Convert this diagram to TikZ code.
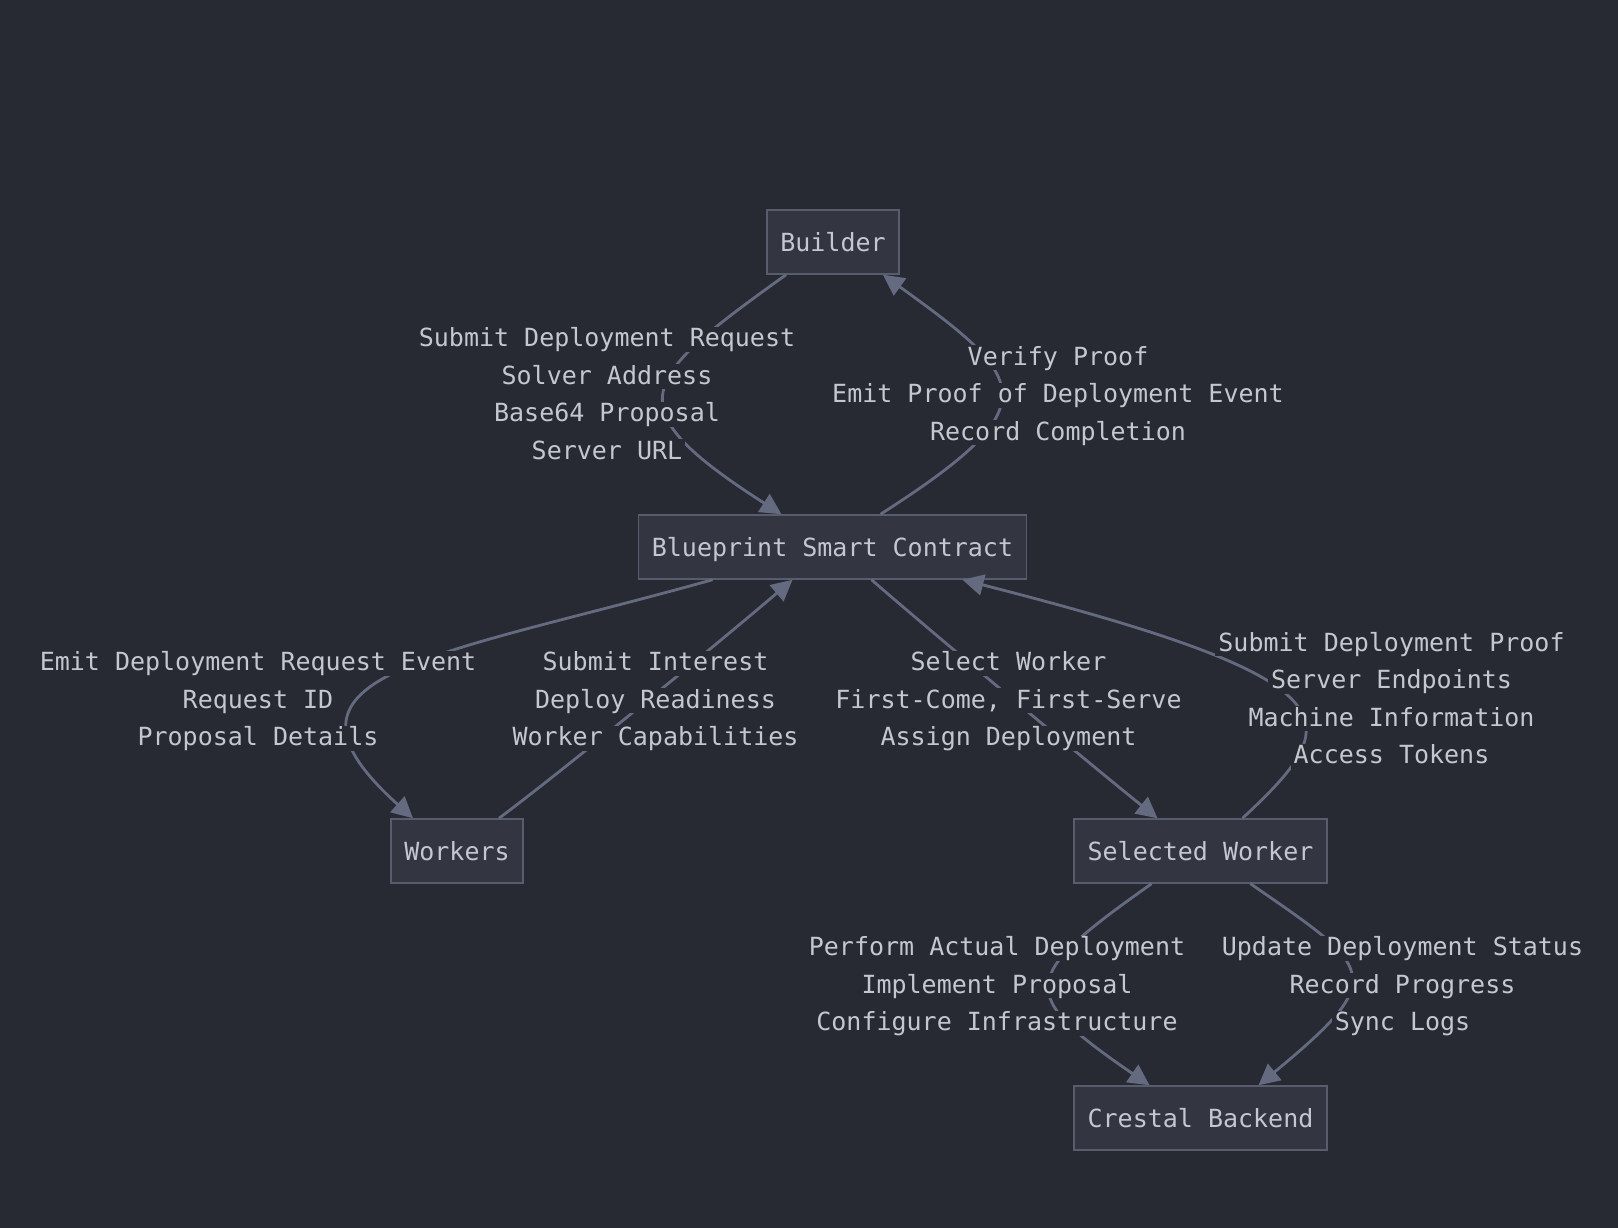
\documentclass[tikz,border=0pt]{standalone}
\usepackage{fontspec}
\newfontfamily\flowfont{DejaVu Sans Mono}
\usetikzlibrary{arrows.meta}

\definecolor{bgcol}{RGB}{40,42,51}
\definecolor{boxfill}{RGB}{51,54,65}
\definecolor{boxline}{RGB}{88,93,110}
\definecolor{linkcol}{RGB}{100,107,128}
\definecolor{textcol}{RGB}{195,199,208}

\begin{document}
\begin{tikzpicture}[x=1pt, y=-1pt,
  actor/.style={draw=boxline, fill=boxfill, line width=1.5pt, text=textcol,
    font=\flowfont\fontsize{25pt}{30pt}\selectfont, minimum height=64pt,
    inner xsep=13.5pt, text height=18.5pt, text depth=0pt},
  link/.style={draw=linkcol, line width=2.8pt, -{Triangle[length=21pt,width=21pt]}},
  lbl/.style={fill=bgcol, text=textcol, font=\flowfont\fontsize{25pt}{30pt}\selectfont,
    inner xsep=3pt, inner ysep=0pt, text height=20pt, text depth=5pt, anchor=base}]
  \newcommand{\EdgeLabel}[4]{%
    \foreach \txt [count=\k] in {#4}
      \node[lbl] (#1-\k) at (#2, {#3+37.5*(\k-1)}) {\txt};%
  }

  % Page
  \fill[bgcol] (0,0) rectangle (1618,1228);
  \useasboundingbox (0,0) rectangle (1618,1228);

  % Actors
  \node[actor] (builder) at (833,242) {Builder};
  \node[actor] (contract) at (832.5,547) {Blueprint Smart Contract};
  \node[actor] (workers) at (457,851) {Workers};
  \node[actor] (selected) at (1200.5,851) {Selected Worker};
  \node[actor] (backend) at (1200.5,1118) {Crestal Backend};

  % Links
  \draw[link] ([xshift=-47pt]builder.south) .. controls +(-146,105) and +(-170,-109) .. ([xshift=-51pt]contract.north);
  \draw[link] ([xshift=48pt]contract.north) .. controls +(170,-109) and +(146,105) .. ([xshift=50pt]builder.south);
  \draw[link] ([xshift=-120pt]contract.south) .. controls +(-283,79) and +(-161,-145) .. ([xshift=-44pt]workers.north);
  \draw[link] ([xshift=42pt]workers.north) .. controls +(71,-53) and +(-68,58) .. ([xshift=-40pt]contract.south);
  \draw[link] ([xshift=39pt]contract.south) .. controls +(62,54) and +(-66,-53) .. ([xshift=-43pt]selected.north);
  \draw[link] ([xshift=42pt]selected.north) .. controls +(104,-97) and +(400,102) .. ([xshift=130pt]contract.south);
  \draw[link] ([xshift=-49pt]selected.south) .. controls +(-133,94) and +(-134,-92) .. ([xshift=-51pt]backend.north);
  \draw[link] ([xshift=50pt]selected.south) .. controls +(123,85) and +(132,-109) .. ([xshift=58pt]backend.north);

  % Link labels
  \EdgeLabel{request}{607}{346.5}{Submit Deployment Request,Solver Address,Base64 Proposal,Server URL}
  \EdgeLabel{verify}{1058}{365}{Verify Proof,Emit Proof of Deployment Event,Record Completion}
  \EdgeLabel{emit}{258}{670.5}{Emit Deployment Request Event,Request ID,Proposal Details}
  \EdgeLabel{interest}{655.5}{670.5}{Submit Interest,Deploy Readiness,Worker Capabilities}
  \EdgeLabel{select}{1008.5}{670.5}{Select Worker,{First-Come, First-Serve},Assign Deployment}
  \EdgeLabel{proof}{1391.5}{651}{Submit Deployment Proof,Server Endpoints,Machine Information,Access Tokens}
  \EdgeLabel{perform}{997}{955.5}{Perform Actual Deployment,Implement Proposal,Configure Infrastructure}
  \EdgeLabel{update}{1402.5}{955.5}{Update Deployment Status,Record Progress,Sync Logs}
\end{tikzpicture}
\end{document}
